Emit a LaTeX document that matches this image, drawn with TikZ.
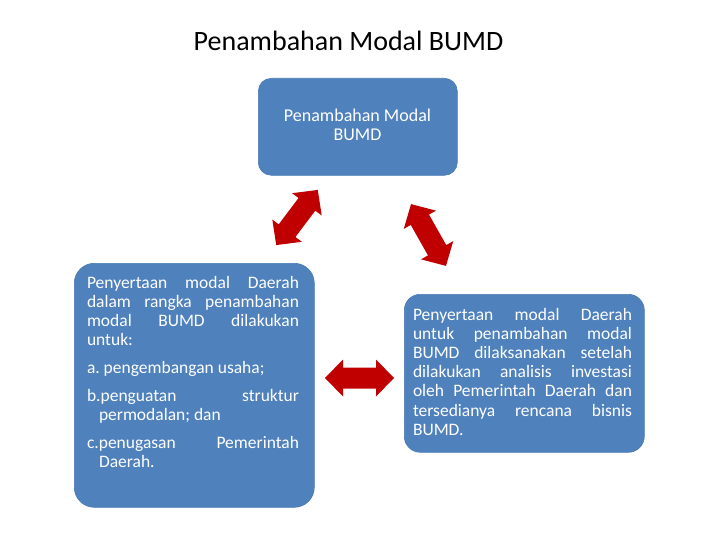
\documentclass[tikz,border=0pt]{standalone}
\usepackage{fontspec}
\setmainfont{Carlito}
\definecolor{boxblue}{HTML}{4F81BD}
\definecolor{boxedge}{HTML}{4A7AB4}
\definecolor{arrred}{HTML}{C00000}
\frenchspacing
\newcommand\dblarr[4]{%
  \begin{scope}[shift={(#1,#2)},rotate=#3]
    \fill[arrred] ({-#4/2},0) -- ({-#4/2+18},18.5) -- ({-#4/2+18},10.5) -- ({#4/2-18},10.5)
      -- ({#4/2-18},18.5) -- ({#4/2},0) -- ({#4/2-18},-18.5) -- ({#4/2-18},-10.5)
      -- ({-#4/2+18},-10.5) -- ({-#4/2+18},-18.5) -- cycle;
  \end{scope}}
\newcommand\jl[2]{\makebox[#1][s]{#2}\par}
\begin{document}
\begin{tikzpicture}[x=1pt,y=-1pt,
  box/.style={fill=boxblue, draw=boxedge, line width=0.6pt, inner sep=0pt, anchor=north west},
  txt/.style={text=white, inner sep=0pt, outer sep=0pt}]
\useasboundingbox (0,0) rectangle (720,540);
\node[anchor=base, inner sep=0pt, font=\fontsize{28}{32}\selectfont] (title) at (348.5,50.5) {Penambahan Modal BUMD};
% boxes
\node[box, rounded corners=13pt, minimum width=199pt, minimum height=97pt] (top) at (258,78) {};
\node[box, rounded corners=20pt, minimum width=240pt, minimum height=244pt] (left) at (74,263) {};
\node[box, rounded corners=16pt, minimum width=240pt, minimum height=158pt] (right) at (404,294) {};
% texts
\node[txt, anchor=base, align=center, font=\fontsize{18}{19}\selectfont] (toptext) at (357.5,141) {Penambahan Modal\\BUMD};
\node[txt, anchor=base west] (lefttext) at (87,288) {\parbox[t]{212pt}{\fontsize{17.5}{19.2}\selectfont\parindent=0pt\parskip=0pt
\jl{212pt}{Penyertaan modal Daerah}
\jl{212pt}{dalam rangka penambahan}
\jl{212pt}{modal BUMD dilakukan}
untuk:\par
\vspace{9pt}a. pengembangan usaha;\par
\vspace{8pt}\jl{212pt}{b.penguatan struktur}
\hspace*{12pt}permodalan; dan\par
\vspace{9pt}\jl{212pt}{c.penugasan Pemerintah}
\hspace*{12pt}Daerah.}};
\node[txt, anchor=base west] (righttext) at (413,320) {\parbox[t]{219pt}{\fontsize{17.5}{19.2}\selectfont\parindent=0pt\parskip=0pt
\jl{219pt}{Penyertaan modal Daerah}
\jl{219pt}{untuk penambahan modal}
\jl{219pt}{BUMD dilaksanakan setelah}
\jl{219pt}{dilakukan analisis investasi}
\jl{219pt}{oleh Pemerintah Daerah dan}
\jl{219pt}{tersedianya rencana bisnis}
BUMD.}};
% double arrows
\dblarr{297}{217.5}{53}{69}
\dblarr{428.5}{235}{-60.5}{71}
\dblarr{359.5}{378}{0}{69}
\end{tikzpicture}
\end{document}
